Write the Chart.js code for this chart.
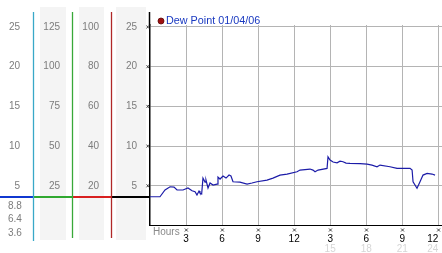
<!DOCTYPE html>
<html><head><meta charset="utf-8">
<script src="https://cdn.jsdelivr.net/npm/chart.js@4/dist/chart.umd.min.js"></script>
<style>html,body{margin:0;padding:0;background:#fff;overflow:hidden}canvas{display:block}</style>
</head><body><canvas id="c" width="442" height="253"></canvas>
<script>
const seriesLabel = 'Dew Point 01/04/06';
const hours = [0,0.83,1.25,1.67,2.0,2.25,2.75,3.16,3.5,3.75,3.91,4.08,4.16,4.30,4.41,4.58,4.66,4.83,5.0,5.25,5.58,5.66,5.83,6.08,6.33,6.58,6.74,6.91,7.49,8.08,8.49,8.91,9.74,10.24,10.82,11.41,12.24,12.49,13.32,13.57,13.74,13.99,14.74,14.82,14.99,15.24,15.57,15.82,16.07,16.32,16.65,17.49,18.07,18.48,18.9,19.15,19.98,20.57,21.65,21.82,21.9,22.23,22.48,22.73,23.07,23.48,23.73];
const dewPoint = [3.62,3.62,4.47,4.88,4.84,4.47,4.47,4.72,4.38,4.25,3.84,4.34,4.09,3.96,5.97,5.47,5.72,4.72,5.35,5.09,5.22,6.1,5.85,6.23,5.97,6.35,6.23,5.51,5.47,5.22,5.35,5.51,5.72,5.97,6.35,6.48,6.77,6.98,7.11,6.98,6.77,6.98,7.19,8.65,8.24,7.99,7.9,8.11,8.03,7.86,7.82,7.8,7.74,7.61,7.4,7.61,7.4,7.19,7.19,6.98,5.51,4.68,5.51,6.35,6.57,6.48,6.35];
const hourTicks = [0,3,6,9,12,15,18,21,24];
const hourLabels = ['','3','6','9','12','3','6','9','12'];
const clockTicks = [0,15,18,21,24];
const clockLabels = ['','15','18','21','24'];
const dewTicks = [5,10,15,20,25];
const colATicks = [5,10,15,20,25];
const colBTicks = [25,50,75,100,125];
const colCTicks = [20,40,60,80,100];
const extraLabels = ['8.8','6.4','3.6'];

const FONT = 'Liberation Sans, Arial, sans-serif';
const GRAY = '#7c7c7c';

function fixTicks(arr){ return s => { s.ticks = arr.map(v => ({value: v})); }; }
function fixW(w){ return s => { s.width = w; s.paddingTop = 0; s.paddingBottom = 0; }; }
function fixH(h){ return s => { s.height = h; s.paddingLeft = 0; s.paddingRight = 0; }; }
function sideAxis(weight, max, width, pad, ticksArr){
  return {
    type: 'linear', position: 'left', weight: weight, min: 0, max: max,
    afterBuildTicks: fixTicks(ticksArr), afterFit: fixW(width),
    ticks: {padding: pad, color: GRAY, font: {family: FONT, size: 10}, callback: (v, i) => String(ticksArr[i])},
    grid: {display: false, drawTicks: false}, border: {display: false}
  };
}

const decor = {
  id: 'decor',
  beforeDraw(chart){
    const c = chart.ctx, s = chart.scales;
    c.save();
    c.fillStyle = '#f4f4f4';
    c.fillRect(s.yB.left + 6.5, 7, s.yB.right - s.yB.left - 13, 233);
    c.fillRect(s.yC.left + 6.5, 7, s.yC.right - s.yC.left - 14, 233);
    c.fillRect(s.y.left + 4.5, 7, s.y.right - s.y.left - 8.5, 233);
    c.restore();
  },
  afterDraw(chart){
    const c = chart.ctx, s = chart.scales, ca = chart.chartArea;
    c.save();
    // current value indicator across the side scales
    const yv = Math.round(s.y.getPixelForValue(dewPoint[0]));
    const segs = [[0, s.yA.right, '#1038d0'], [s.yA.right, s.yB.right, '#30a830'], [s.yB.right, s.yC.right, '#d82020'], [s.yC.right, ca.left, '#000']];
    c.lineWidth = 2;
    segs.forEach(([a, b, col]) => { c.strokeStyle = col; c.beginPath(); c.moveTo(a, yv); c.lineTo(b, yv); c.stroke(); });
    // coloured scale separators
    const vl = [[s.yA.right, '#38a8c8', 241], [s.yB.right, '#38a838', 238], [s.yC.right, '#b02828', 238]];
    c.lineWidth = 1.3;
    vl.forEach(([x, col, yb]) => { c.strokeStyle = col; c.beginPath(); c.moveTo(x, 12); c.lineTo(x, yb); c.stroke(); });
    // extend main axis upward
    c.strokeStyle = '#000'; c.lineWidth = 1.5;
    c.beginPath(); c.moveTo(ca.left - 0.5, 12); c.lineTo(ca.left - 0.5, ca.top + 1); c.stroke();
    // tick crosses on y axis
    c.strokeStyle = '#333'; c.lineWidth = 0.9;
    s.y.ticks.forEach(t => {
      const py = s.y.getPixelForValue(t.value);
      c.beginPath(); c.moveTo(ca.left - 3.5, py - 1.5); c.lineTo(ca.left - 1, py + 1.5);
      c.moveTo(ca.left - 1, py - 1.5); c.lineTo(ca.left - 3.5, py + 1.5); c.stroke();
    });
    // tick crosses on x axis
    s.x.ticks.forEach((t, i) => {
      if (!hourLabels[i]) return;
      const px = s.x.getPixelForValue(t.value);
      c.beginPath(); c.moveTo(px - 1.2, 228.5); c.lineTo(px + 1.8, 231.5);
      c.moveTo(px + 1.8, 228.5); c.lineTo(px - 1.2, 231.5); c.stroke();
    });
    // legend
    const ds = chart.data.datasets[0];
    c.fillStyle = '#a01010'; c.strokeStyle = '#5a0808'; c.lineWidth = 0.8;
    c.beginPath(); c.arc(161, 21, 3, 0, Math.PI * 2); c.fill(); c.stroke();
    c.fillStyle = '#1838c0'; c.font = '10.8px ' + FONT; c.textBaseline = 'middle'; c.textAlign = 'left';
    c.fillText(ds.label, 166, 21.5);
    // Hours caption
    c.fillStyle = '#8a8a8a'; c.font = '10px ' + FONT;
    c.fillText('Hours', 153, 232);
    // extra readings in first column
    c.fillStyle = GRAY;
    extraLabels.forEach((t, i) => c.fillText(t, 8, [206, 219.5, 233][i]));
    c.restore();
  }
};

new Chart(document.getElementById('c'), {
  type: 'line',
  data: {datasets: [{label: seriesLabel, data: hours.map((h, i) => ({x: h, y: dewPoint[i]})),
    borderColor: '#1c1ca8', borderWidth: 1.2, pointRadius: 0, tension: 0, fill: false, xAxisID: 'x', yAxisID: 'y'}]},
  options: {
    responsive: false, animation: false, devicePixelRatio: 1,
    layout: {padding: {top: 25, left: 0, right: 0, bottom: 0}},
    plugins: {legend: {display: false}, tooltip: {enabled: false}},
    scales: {
      x: {type: 'linear', position: 'bottom', weight: 0, min: 0, max: 24.31,
        afterBuildTicks: fixTicks(hourTicks), afterFit: fixH(17.5),
        ticks: {padding: 8, align: 'inner', color: '#000', font: {family: FONT, size: 10}, maxRotation: 0, autoSkip: false,
          callback: (v, i) => hourLabels[i]},
        grid: {color: (ctx) => (ctx.index === 0 ? 'rgba(0,0,0,0)' : '#b4b4b4'), drawTicks: false}, border: {color: '#000', width: 1}},
      x2: {type: 'linear', position: 'bottom', weight: 1, min: 0, max: 24.31,
        afterBuildTicks: fixTicks(clockTicks), afterFit: fixH(10),
        ticks: {padding: 0, align: 'inner', color: '#d6d6d6', font: {family: FONT, size: 10}, maxRotation: 0, autoSkip: false,
          callback: (v, i) => clockLabels[i]},
        grid: {display: false, drawTicks: false}, border: {display: false}},
      yA: sideAxis(3, 25.25, 33.5, 13.5, colATicks),
      yB: sideAxis(2, 126.25, 39, 12.5, colBTicks),
      yC: sideAxis(1, 101, 39, 12.5, colCTicks),
      y: {type: 'linear', position: 'left', weight: 0, min: 0, max: 25.25,
        afterBuildTicks: fixTicks(dewTicks), afterFit: fixW(38.5),
        ticks: {padding: 13, color: GRAY, font: {family: FONT, size: 10}, callback: (v, i) => String(dewTicks[i])},
        grid: {color: '#b4b4b4', drawTicks: false}, border: {color: '#000', width: 1.5}}
    }
  },
  plugins: [decor]
});
</script></body></html>
